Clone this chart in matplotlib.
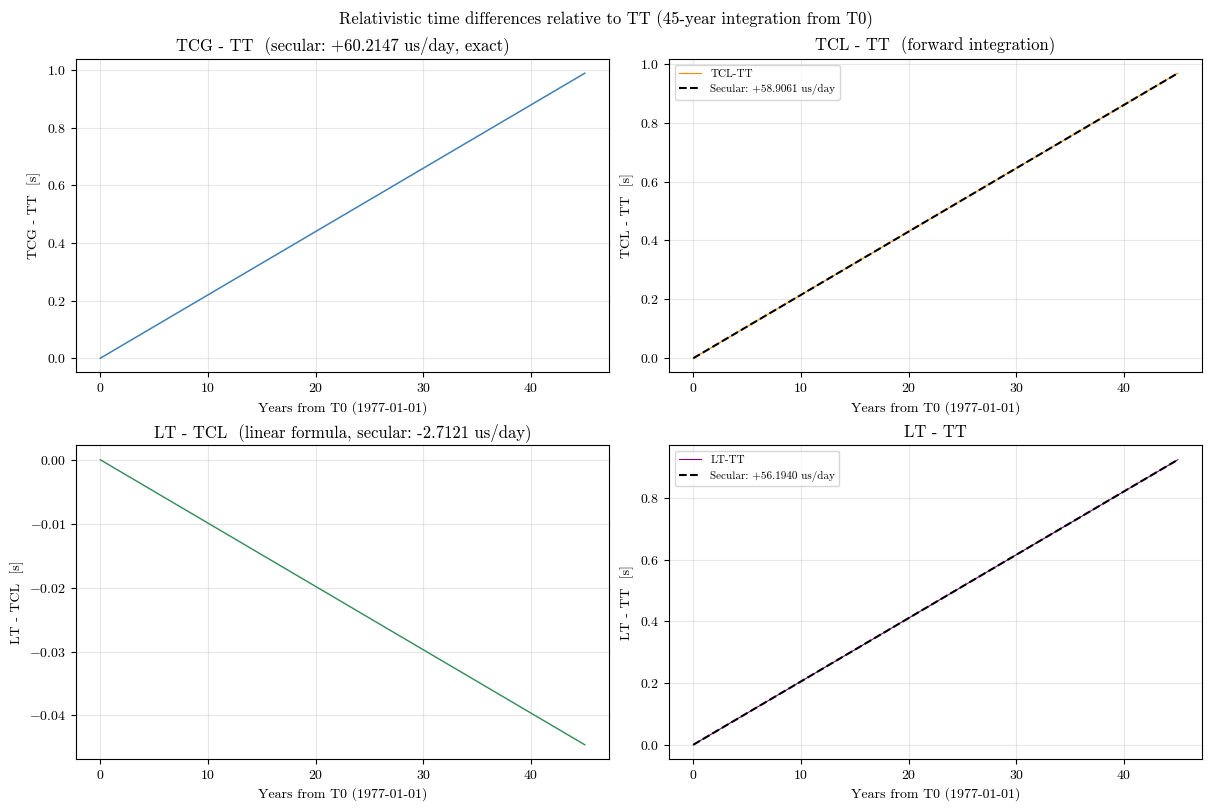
import matplotlib
matplotlib.use("Agg")
import matplotlib.pyplot as plt

plt.rcParams['font.family'] = ['cmr10', 'DejaVu Serif']
plt.rcParams['mathtext.fontset'] = 'cm'
plt.rcParams['axes.formatter.use_mathtext'] = True
plt.rcParams['axes.unicode_minus'] = True

years = [0.0, 45.0]
tcg_tt = [0.0, 0.98970]
tcl_tt = [0.0, 0.96819]
tcl_tt_secular = [0.0, 0.96819]
lt_tcl = [0.0, -0.044577]
lt_tt = [0.0, 0.92362]
lt_tt_secular = [0.0, 0.92362]

fig, axs = plt.subplots(2, 2, figsize=(12.11, 8.11), dpi=100)
fig.subplots_adjust(left=0.0628, right=0.9926, bottom=0.0641, top=0.9273,
                    wspace=0.1126, hspace=0.2329)
fig.suptitle('Relativistic time differences relative to TT (45-year integration from T0)',
             fontsize=12, y=0.987, va='top')
xl = 'Years from T0 (1977-01-01)'

ax = axs[0, 0]
ax.plot(years, tcg_tt, color='#4080b8', lw=1.1)
ax.set_title('TCG - TT  (secular: +60.2147 us/day, exact)', fontsize=12)
ax.set_ylabel('TCG - TT  [s]')

ax = axs[0, 1]
ax.plot(years, tcl_tt, color='darkorange', lw=0.8, label='TCL-TT')
ax.plot(years, tcl_tt_secular, color='black', lw=1.5, ls='--', label='Secular: +58.9061 us/day')
ax.set_title('TCL - TT  (forward integration)', fontsize=12)
ax.set_ylabel('TCL - TT  [s]')
ax.legend(loc='upper left', fontsize=8)

ax = axs[1, 0]
ax.plot(years, lt_tcl, color='seagreen', lw=1.0)
ax.set_title('LT - TCL  (linear formula, secular: -2.7121 us/day)', fontsize=12)
ax.set_ylabel('LT - TCL  [s]')

ax = axs[1, 1]
ax.plot(years, lt_tt, color='purple', lw=0.8, label='LT-TT')
ax.plot(years, lt_tt_secular, color='black', lw=1.5, ls='--', label='Secular: +56.1940 us/day')
ax.set_title('LT - TT', fontsize=12)
ax.set_ylabel('LT - TT  [s]')
ax.legend(loc='upper left', fontsize=8)

for ax in axs.flat:
    ax.set_xlabel(xl)
    ax.grid(True, alpha=0.3)

fig.savefig('out.png', dpi=100)
